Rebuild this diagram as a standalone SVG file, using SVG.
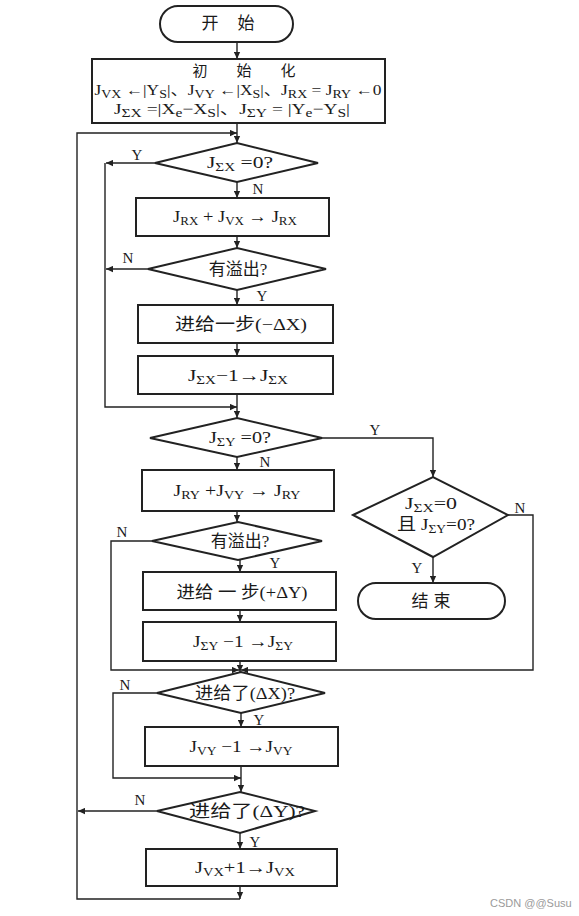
<svg xmlns="http://www.w3.org/2000/svg" width="579" height="916" viewBox="0 0 579 916">
<defs>
<style>
.box{fill:#fff;stroke:#222;stroke-width:2}
.ln{fill:none;stroke:#222;stroke-width:1.4}
.t{font-family:"Liberation Serif","Noto Sans CJK SC",serif;font-size:17px;fill:#1a1a1a;text-anchor:middle}
.i{font-size:15px}
.s{font-size:12px}
.lb{font-family:"Liberation Serif",serif;font-size:15px;fill:#1a1a1a;text-anchor:middle}
.wm{font-family:"Liberation Sans",sans-serif;font-size:11px;fill:#9a9a9a}
</style>
<marker id="a" viewBox="0 0 10 10" refX="10" refY="5" markerWidth="9" markerHeight="7" markerUnits="userSpaceOnUse" orient="auto"><path d="M0,0.5 L10,5 L0,9.5 z" fill="#222"/></marker>
</defs>
<rect width="579" height="916" fill="#fff"/>

<g id="connectors">
<path class="ln" d="M237,42 V59" marker-end="url(#a)"/>
<path class="ln" d="M237,123 V143" marker-end="url(#a)"/>
<path class="ln" d="M155,163 H106" marker-end="url(#a)"/>
<path class="ln" d="M237,182 V198" marker-end="url(#a)"/>
<path class="ln" d="M237,236 V248" marker-end="url(#a)"/>
<path class="ln" d="M148,269 H106" marker-end="url(#a)"/>
<path class="ln" d="M237,290 V305" marker-end="url(#a)"/>
<path class="ln" d="M237,343 V356" marker-end="url(#a)"/>
<path class="ln" d="M237,394 V418" marker-end="url(#a)"/>
<path class="ln" d="M105,163 V407 H237" marker-end="url(#a)"/>
<path class="ln" d="M322,438 H433 V477" marker-end="url(#a)"/>
<path class="ln" d="M237,457 V470" marker-end="url(#a)"/>
<path class="ln" d="M237,511 V522" marker-end="url(#a)"/>
<path class="ln" d="M433,557 V583" marker-end="url(#a)"/>
<path class="ln" d="M152,541 H111 V670 H239" marker-end="url(#a)"/>
<path class="ln" d="M508,515 H533 V670 H241" marker-end="url(#a)"/>
<path class="ln" d="M240,560 V572" marker-end="url(#a)"/>
<path class="ln" d="M240,610 V622" marker-end="url(#a)"/>
<path class="ln" d="M240,661 V672" marker-end="url(#a)"/>
<path class="ln" d="M157,693 H113 V778 H241" marker-end="url(#a)"/>
<path class="ln" d="M241,713 V727" marker-end="url(#a)"/>
<path class="ln" d="M241,766 V792" marker-end="url(#a)"/>
<path class="ln" d="M157,811 H78" marker-end="url(#a)"/>
<path class="ln" d="M240,833 V849" marker-end="url(#a)"/>
<path class="ln" d="M240,886 V899" marker-end="url(#a)"/>
<path class="ln" d="M240,899 H77 V133 H237" marker-end="url(#a)"/>
</g>

<g id="labels">
<text class="lb" x="137" y="160">Y</text>
<text class="lb" x="258" y="194">N</text>
<text class="lb" x="128" y="263">N</text>
<text class="lb" x="262" y="301">Y</text>
<text class="lb" x="375" y="435">Y</text>
<text class="lb" x="265" y="467">N</text>
<text class="lb" x="122" y="537">N</text>
<text class="lb" x="275" y="568">Y</text>
<text class="lb" x="520" y="513">N</text>
<text class="lb" x="417" y="573">Y</text>
<text class="lb" x="125" y="690">N</text>
<text class="lb" x="259" y="725">Y</text>
<text class="lb" x="140" y="805">N</text>
<text class="lb" x="255" y="847">Y</text>
</g>

<g id="start">
<rect class="box" x="160" y="6" width="133" height="36" rx="18"/>
<text class="t" x="210 246" y="29">开始</text>
</g>

<g id="init">
<rect class="box" x="92" y="59" width="293" height="64"/>
<text class="t i" x="200 244 288" y="76">初始化</text>
<text class="t i" x="238" y="95" textLength="287" lengthAdjust="spacingAndGlyphs">J<tspan class="s" dy="3">VX</tspan><tspan dy="-3"> ←|Y</tspan><tspan class="s" dy="3">S</tspan><tspan dy="-3">|、J</tspan><tspan class="s" dy="3">VY</tspan><tspan dy="-3"> ←|X</tspan><tspan class="s" dy="3">S</tspan><tspan dy="-3">|、J</tspan><tspan class="s" dy="3">RX</tspan><tspan dy="-3"> = J</tspan><tspan class="s" dy="3">RY</tspan><tspan dy="-3"> ←0</tspan></text>
<text class="t i" x="232" y="114" textLength="236" lengthAdjust="spacingAndGlyphs">J<tspan class="s" dy="3">ΣX</tspan><tspan dy="-3"> =|X</tspan><tspan class="s" dy="3">e</tspan><tspan dy="-3">−X</tspan><tspan class="s" dy="3">S</tspan><tspan dy="-3">|、J</tspan><tspan class="s" dy="3">ΣY</tspan><tspan dy="-3"> = |Y</tspan><tspan class="s" dy="3">e</tspan><tspan dy="-3">−Y</tspan><tspan class="s" dy="3">S</tspan><tspan dy="-3">|</tspan></text>
</g>

<g id="d1">
<polygon class="box" points="155,163 237,143 318,163 237,182"/>
<text class="t" x="240" y="168" textLength="66" lengthAdjust="spacingAndGlyphs">J<tspan class="s" dy="3">ΣX</tspan><tspan dy="-3"> =0?</tspan></text>
</g>

<g id="b2">
<rect class="box" x="136" y="198" width="193" height="38"/>
<text class="t" x="235" y="222" textLength="124" lengthAdjust="spacingAndGlyphs">J<tspan class="s" dy="3">RX</tspan><tspan dy="-3"> + J</tspan><tspan class="s" dy="3">VX</tspan><tspan dy="-3"> → J</tspan><tspan class="s" dy="3">RX</tspan></text>
</g>

<g id="d2">
<polygon class="box" points="148,269 237,248 326,269 237,290"/>
<text class="t" x="238" y="275">有溢出?</text>
</g>

<g id="b3">
<rect class="box" x="138" y="305" width="195" height="38"/>
<text class="t" x="241" y="330" textLength="132" lengthAdjust="spacingAndGlyphs">进给一步(−ΔX)</text>
</g>

<g id="b4">
<rect class="box" x="138" y="356" width="195" height="38"/>
<text class="t" x="238" y="381" textLength="100" lengthAdjust="spacingAndGlyphs">J<tspan class="s" dy="3">ΣX</tspan><tspan dy="-3">−1→J</tspan><tspan class="s" dy="3">ΣX</tspan></text>
</g>

<g id="d3">
<polygon class="box" points="150,438 237,418 322,438 237,457"/>
<text class="t" x="240" y="443" textLength="62" lengthAdjust="spacingAndGlyphs">J<tspan class="s" dy="3">ΣY</tspan><tspan dy="-3"> =0?</tspan></text>
</g>

<g id="b5">
<rect class="box" x="142" y="470" width="192" height="41"/>
<text class="t" x="237" y="496" textLength="127" lengthAdjust="spacingAndGlyphs">J<tspan class="s" dy="3">RY</tspan><tspan dy="-3"> +J</tspan><tspan class="s" dy="3">VY</tspan><tspan dy="-3"> → J</tspan><tspan class="s" dy="3">RY</tspan></text>
</g>

<g id="d5">
<polygon class="box" points="152,541 238,522 322,541 238,560"/>
<text class="t" x="240" y="547">有溢出?</text>
</g>

<g id="d4">
<polygon class="box" points="353,515 433,477 508,515 433,557"/>
<text class="t" x="431" y="509" textLength="52" lengthAdjust="spacingAndGlyphs">J<tspan class="s" dy="3">ΣX</tspan><tspan dy="-3">=0</tspan></text>
<text class="t" x="436" y="530" textLength="78" lengthAdjust="spacingAndGlyphs">且 J<tspan class="s" dy="3">ΣY</tspan><tspan dy="-3">=0?</tspan></text>
</g>

<g id="end">
<rect class="box" x="358" y="583" width="147" height="36" rx="18"/>
<text class="t" x="420 442" y="607">结束</text>
</g>

<g id="b6">
<rect class="box" x="143" y="572" width="193" height="38"/>
<text class="t" x="242" y="598" textLength="131" lengthAdjust="spacingAndGlyphs">进给 一 步(+ΔY)</text>
</g>

<g id="b7">
<rect class="box" x="143" y="622" width="193" height="39"/>
<text class="t" x="243" y="647" textLength="100" lengthAdjust="spacingAndGlyphs">J<tspan class="s" dy="3">ΣY</tspan><tspan dy="-3"> −1 →J</tspan><tspan class="s" dy="3">ΣY</tspan></text>
</g>

<g id="d6">
<polygon class="box" points="157,693 241,672 325,693 241,713"/>
<text class="t" x="245" y="699" textLength="100" lengthAdjust="spacingAndGlyphs">进给了(ΔX)?</text>
</g>

<g id="b8">
<rect class="box" x="145" y="727" width="193" height="39"/>
<text class="t" x="241" y="752" textLength="103" lengthAdjust="spacingAndGlyphs">J<tspan class="s" dy="3">VY</tspan><tspan dy="-3"> −1 →J</tspan><tspan class="s" dy="3">VY</tspan></text>
</g>

<g id="d7">
<polygon class="box" points="157,811 240,792 315,811 240,833"/>
<text class="t" x="247" y="817" font-size="18" textLength="116" lengthAdjust="spacingAndGlyphs">进给了(ΔY)?</text>
</g>

<g id="b9">
<rect class="box" x="146" y="849" width="191" height="37"/>
<text class="t" x="245" y="873" textLength="100" lengthAdjust="spacingAndGlyphs">J<tspan class="s" dy="3">VX</tspan><tspan dy="-3">+1→J</tspan><tspan class="s" dy="3">VX</tspan></text>
</g>

<text class="wm" x="490" y="907">CSDN @@Susu</text>
</svg>
